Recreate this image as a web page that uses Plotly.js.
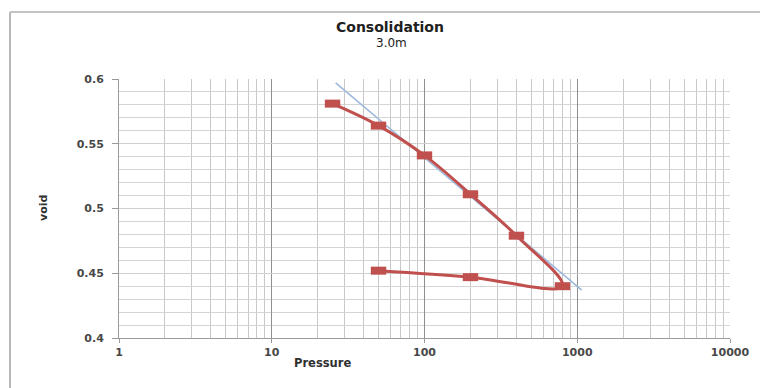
<!DOCTYPE html>
<html>
<head>
<meta charset="utf-8">
<script src="https://cdn.plot.ly/plotly-3.0.1.min.js"></script>
<style>
  html, body { margin: 0; padding: 0; background: #fff; overflow: hidden; }
  #chart { width: 763px; height: 388px; }
</style>
</head>
<body>
<div id="chart"></div>
<script>
// Oedometer test, sample at 3.0 m: void ratio against pressure
const pressure = [25, 50, 100, 200, 400, 800, 200, 50];
const voidRatio = [0.581, 0.564, 0.541, 0.511, 0.479, 0.440, 0.447, 0.452];

// Straight line fitted to the virgin compression branch
const trendPressure = [26.2, 1069];
const trendVoid = [0.597, 0.437];

const xTickVals = [1, 10, 100, 1000, 10000];
const xTickText = ['1', '10', '100', '1000', '10000'];

const red = '#C0504D';
const tickFont = { family: 'DejaVu Sans', size: 11, color: '#484848', weight: 'bold' };

// pixel helpers for annotation placement in paper units
const L = 119, R = 33, T = 79, B = 50, W = 763, H = 388;
const pw = W - L - R, ph = H - T - B;
const px = x => (x - L) / pw;
const py = y => (H - B - y) / ph;

const traces = [
  {
    x: trendPressure, y: trendVoid,
    type: 'scatter', mode: 'lines',
    line: { color: '#9DB9DC', width: 1.6 },
    hoverinfo: 'skip'
  },
  {
    x: pressure, y: voidRatio,
    type: 'scatter', mode: 'lines+markers',
    line: { color: red, width: 3, shape: 'spline', smoothing: 1.0 },
    marker: { symbol: 'line-ew', size: 11, color: red, line: { color: red, width: 8 } }
  }
];

const layout = {
  width: W, height: H,
  margin: { l: L, r: R, t: T, b: B, pad: 0 },
  paper_bgcolor: '#fff', plot_bgcolor: '#fff',
  showlegend: false,
  xaxis: {
    type: 'log', range: [0, 4],
    tickvals: xTickVals, ticktext: xTickText,
    tickfont: tickFont,
    ticks: 'outside', ticklen: 4, tickcolor: '#999',
    showline: true, linecolor: '#9a9a9a', linewidth: 1,
    showgrid: true, gridcolor: '#8f8f8f', gridwidth: 1,
    minor: { dtick: 'D1', showgrid: true, gridcolor: '#c8c8c8', gridwidth: 1, ticks: '' },
    zeroline: false, mirror: false
  },
  yaxis: {
    range: [0.4, 0.6], dtick: 0.05, tick0: 0.4,
    tickfont: tickFont,
    ticks: 'outside', ticklen: 6, tickcolor: '#999',
    ticklabelstandoff: 6,
    showline: true, linecolor: '#9a9a9a', linewidth: 1,
    showgrid: true, gridcolor: '#d0d0d0', gridwidth: 1,
    minor: { dtick: 0.01, showgrid: true, gridcolor: '#d4d4d4', gridwidth: 1, ticks: '' },
    zeroline: false
  },
  annotations: [
    { text: '<b>Consolidation</b>', xref: 'paper', yref: 'paper', x: px(390), y: py(27),
      xanchor: 'center', yanchor: 'middle', showarrow: false,
      font: { family: 'DejaVu Sans', size: 14, color: '#202020' } },
    { text: '3.0m', xref: 'paper', yref: 'paper', x: px(391), y: py(43),
      xanchor: 'center', yanchor: 'middle', showarrow: false,
      font: { family: 'DejaVu Sans', size: 12, color: '#202020' } },
    { text: '<b>Pressure</b>', xref: 'paper', yref: 'paper', x: px(322), y: py(363),
      xanchor: 'center', yanchor: 'middle', showarrow: false,
      font: { family: 'DejaVu Sans', size: 11.5, color: '#303030' } },
    { text: '<b>void</b>', xref: 'paper', yref: 'paper', x: px(43), y: py(208),
      xanchor: 'center', yanchor: 'middle', showarrow: false, textangle: -90,
      font: { family: 'DejaVu Sans', size: 11, color: '#303030' } }
  ],
  shapes: [
    // chart frame (left and top edges)
    { type: 'line', xref: 'paper', yref: 'paper', x0: px(10), x1: px(10), y0: py(12), y1: py(390),
      line: { color: '#b8b8b8', width: 2 } },
    { type: 'line', xref: 'paper', yref: 'paper', x0: px(10), x1: px(760), y0: py(12), y1: py(12),
      line: { color: '#c4c4c4', width: 2 } }
  ]
};

Plotly.newPlot('chart', traces, layout, { displayModeBar: false, staticPlot: true });
</script>
</body>
</html>
